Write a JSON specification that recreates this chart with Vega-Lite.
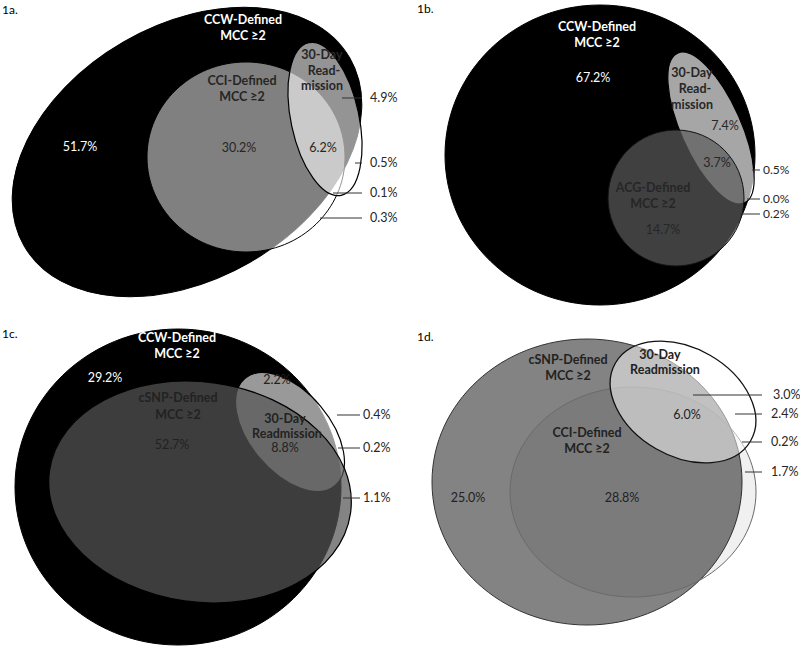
{
  "$schema": "https://vega.github.io/schema/vega-lite/v6.json",
  "background": "white",
  "padding": 0,
  "bounds": "flush",
  "spacing": 0,
  "columns": 2,
  "config": {"view": {"stroke": null}},
  "resolve": {"scale": {"x": "independent", "y": "independent"}},
  "concat": [
    {
      "width": 400, "height": 320,
      "encoding": {
        "x": {"field": "x", "type": "quantitative", "scale": {"domain": [0, 400]}, "axis": null},
        "y": {"field": "y", "type": "quantitative", "scale": {"domain": [0, 320], "reverse": true}, "axis": null}
      },
      "layer": [
        {"data": {"values": [{"set": "CCW-Defined MCC ≥2", "x": 187, "y": 152}]},
         "mark": {"type": "point", "shape": "M -188 0 A 188 127 0 1 0 188 0 A 188 127 0 1 0 -188 0 Z", "size": 4, "angle": -30, "filled": true, "fill": "#000", "fillOpacity": 1, "stroke": "#000", "strokeWidth": 1, "opacity": 1}},
        {"data": {"values": [{"set": "CCI-Defined MCC ≥2", "x": 246, "y": 157}]},
         "mark": {"type": "point", "shape": "M -99 0 A 99 95 0 1 0 99 0 A 99 95 0 1 0 -99 0 Z", "size": 4, "filled": true, "fill": "#fff", "fillOpacity": 0.5, "stroke": "#000", "strokeWidth": 1, "opacity": 1}},
        {"data": {"values": [{"set": "30-Day Readmission", "x": 325, "y": 119}]},
         "mark": {"type": "point", "shape": "M -34 0 A 34 78 0 1 0 34 0 A 34 78 0 1 0 -34 0 Z", "size": 4, "angle": -12, "filled": true, "fill": "#fff", "fillOpacity": 0.58, "stroke": "#000", "strokeWidth": 1.2, "opacity": 1}},
        {"data": {"values": [{"x": 342, "x2": 362, "y": 98}, {"x": 355, "x2": 362, "y": 163}, {"x": 333, "x2": 362, "y": 193}, {"x": 320, "x2": 362, "y": 218}]},
         "mark": {"type": "rule", "color": "#333", "strokeWidth": 1},
         "encoding": {"x2": {"field": "x2"}}},
        {"data": {"values": [{"t": "1a.", "x": 2, "y": 10}]},
         "mark": {"type": "text", "font": "Lato", "fontSize": 12, "color": "#000", "align": "left", "baseline": "middle"},
         "encoding": {"text": {"field": "t"}}},
        {"data": {"values": [{"t": "CCW-Defined", "x": 243, "y": 20}, {"t": "MCC ≥2", "x": 243, "y": 36}]},
         "mark": {"type": "text", "font": "Lato", "fontSize": 12.5, "fontWeight": "bold", "color": "#fff", "align": "center", "baseline": "middle"},
         "encoding": {"text": {"field": "t"}}},
        {"data": {"values": [{"t": "CCI-Defined", "x": 242, "y": 81}, {"t": "MCC ≥2", "x": 242, "y": 97}, {"t": "30-Day", "x": 322, "y": 55}, {"t": "Read-", "x": 324, "y": 71}, {"t": "mission", "x": 322, "y": 86}]},
         "mark": {"type": "text", "font": "Lato", "fontSize": 12.5, "fontWeight": "bold", "color": "#262626", "align": "center", "baseline": "middle"},
         "encoding": {"text": {"field": "t"}}},
        {"data": {"values": [{"t": "51.7%", "x": 80, "y": 147}]},
         "mark": {"type": "text", "font": "Lato", "fontSize": 12.5, "color": "#fff", "align": "center", "baseline": "middle"},
         "encoding": {"text": {"field": "t"}}},
        {"data": {"values": [{"t": "30.2%", "x": 239, "y": 148}, {"t": "6.2%", "x": 323, "y": 148}]},
         "mark": {"type": "text", "font": "Lato", "fontSize": 12.5, "color": "#262626", "align": "center", "baseline": "middle"},
         "encoding": {"text": {"field": "t"}}},
        {"data": {"values": [{"t": "4.9%", "x": 370, "y": 98}, {"t": "0.5%", "x": 370, "y": 163}, {"t": "0.1%", "x": 370, "y": 193}, {"t": "0.3%", "x": 370, "y": 218}]},
         "mark": {"type": "text", "font": "Lato", "fontSize": 12.5, "color": "#262626", "align": "left", "baseline": "middle"},
         "encoding": {"text": {"field": "t"}}}
      ]
    },
    {
      "width": 400, "height": 320,
      "encoding": {
        "x": {"field": "x", "type": "quantitative", "scale": {"domain": [0, 400]}, "axis": null},
        "y": {"field": "y", "type": "quantitative", "scale": {"domain": [0, 320], "reverse": true}, "axis": null}
      },
      "layer": [
        {"data": {"values": [{"set": "CCW-Defined MCC ≥2", "x": 200, "y": 155}]},
         "mark": {"type": "point", "shape": "M -155 0 A 155 150 0 1 0 155 0 A 155 150 0 1 0 -155 0 Z", "size": 4, "filled": true, "fill": "#000", "fillOpacity": 1, "stroke": "#000", "strokeWidth": 1, "opacity": 1}},
        {"data": {"values": [{"set": "30-Day Readmission", "x": 311, "y": 128}]},
         "mark": {"type": "point", "shape": "M -30 0 A 30 82 0 1 0 30 0 A 30 82 0 1 0 -30 0 Z", "size": 4, "angle": -24, "filled": true, "fill": "#fff", "fillOpacity": 0.65, "stroke": "#000", "strokeWidth": 1.2, "opacity": 1}},
        {"data": {"values": [{"set": "ACG-Defined MCC ≥2", "x": 276, "y": 198}]},
         "mark": {"type": "point", "shape": "M -68 0 A 68 68 0 1 0 68 0 A 68 68 0 1 0 -68 0 Z", "size": 4, "filled": true, "fill": "#5b5b5b", "fillOpacity": 0.7, "stroke": "#111", "strokeWidth": 1, "opacity": 1}},
        {"data": {"values": [{"x": 352, "x2": 360, "y": 170}, {"x": 347, "x2": 360, "y": 199}, {"x": 340, "x2": 360, "y": 214}]},
         "mark": {"type": "rule", "color": "#333", "strokeWidth": 1},
         "encoding": {"x2": {"field": "x2"}}},
        {"data": {"values": [{"t": "1b.", "x": 17, "y": 9}]},
         "mark": {"type": "text", "font": "Lato", "fontSize": 12, "color": "#000", "align": "left", "baseline": "middle"},
         "encoding": {"text": {"field": "t"}}},
        {"data": {"values": [{"t": "CCW-Defined", "x": 197, "y": 27}, {"t": "MCC ≥2", "x": 197, "y": 43}]},
         "mark": {"type": "text", "font": "Lato", "fontSize": 12.5, "fontWeight": "bold", "color": "#fff", "align": "center", "baseline": "middle"},
         "encoding": {"text": {"field": "t"}}},
        {"data": {"values": [{"t": "67.2%", "x": 193, "y": 78}]},
         "mark": {"type": "text", "font": "Lato", "fontSize": 12.5, "color": "#fff", "align": "center", "baseline": "middle"},
         "encoding": {"text": {"field": "t"}}},
        {"data": {"values": [{"t": "30-Day", "x": 292, "y": 73}, {"t": "Read-", "x": 295, "y": 89}, {"t": "mission", "x": 292, "y": 105}, {"t": "ACG-Defined", "x": 253, "y": 188}, {"t": "MCC ≥2", "x": 253, "y": 204}]},
         "mark": {"type": "text", "font": "Lato", "fontSize": 12.5, "fontWeight": "bold", "color": "#262626", "align": "center", "baseline": "middle"},
         "encoding": {"text": {"field": "t"}}},
        {"data": {"values": [{"t": "7.4%", "x": 325, "y": 126}, {"t": "3.7%", "x": 317, "y": 163}, {"t": "14.7%", "x": 263, "y": 230}]},
         "mark": {"type": "text", "font": "Lato", "fontSize": 12.5, "color": "#262626", "align": "center", "baseline": "middle"},
         "encoding": {"text": {"field": "t"}}},
        {"data": {"values": [{"t": "0.5%", "x": 363, "y": 170}, {"t": "0.0%", "x": 363, "y": 199}, {"t": "0.2%", "x": 363, "y": 214}]},
         "mark": {"type": "text", "font": "Lato", "fontSize": 12, "color": "#262626", "align": "left", "baseline": "middle"},
         "encoding": {"text": {"field": "t"}}}
      ]
    },
    {
      "width": 400, "height": 327,
      "encoding": {
        "x": {"field": "x", "type": "quantitative", "scale": {"domain": [0, 400]}, "axis": null},
        "y": {"field": "y", "type": "quantitative", "scale": {"domain": [0, 327], "reverse": true}, "axis": null}
      },
      "layer": [
        {"data": {"values": [{"set": "CCW-Defined MCC ≥2", "x": 178, "y": 167}]},
         "mark": {"type": "point", "shape": "M -163 0 A 163 158 0 1 0 163 0 A 163 158 0 1 0 -163 0 Z", "size": 4, "filled": true, "fill": "#000", "fillOpacity": 1, "stroke": "#000", "strokeWidth": 1, "opacity": 1}},
        {"data": {"values": [{"set": "30-Day Readmission", "x": 290, "y": 112}]},
         "mark": {"type": "point", "shape": "M -70 0 A 70 40 0 1 0 70 0 A 70 40 0 1 0 -70 0 Z", "size": 4, "angle": 50, "filled": true, "fill": "#fff", "fillOpacity": 0.6, "stroke": "#000", "strokeWidth": 1.2, "opacity": 1}},
        {"data": {"values": [{"set": "cSNP-Defined MCC ≥2", "x": 200, "y": 172}]},
         "mark": {"type": "point", "shape": "M -152 0 A 152 110 0 1 0 152 0 A 152 110 0 1 0 -152 0 Z", "size": 4, "angle": 8, "filled": true, "fill": "#555", "fillOpacity": 0.72, "stroke": "#000", "strokeWidth": 1.2, "opacity": 1}},
        {"data": {"values": [{"x": 337, "x2": 360, "y": 95}, {"x": 338, "x2": 360, "y": 128}, {"x": 343, "x2": 360, "y": 178}]},
         "mark": {"type": "rule", "color": "#333", "strokeWidth": 1},
         "encoding": {"x2": {"field": "x2"}}},
        {"data": {"values": [{"t": "1c.", "x": 2, "y": 14}]},
         "mark": {"type": "text", "font": "Lato", "fontSize": 12, "color": "#000", "align": "left", "baseline": "middle"},
         "encoding": {"text": {"field": "t"}}},
        {"data": {"values": [{"t": "CCW-Defined", "x": 177, "y": 18}, {"t": "MCC ≥2", "x": 177, "y": 34}]},
         "mark": {"type": "text", "font": "Lato", "fontSize": 12.5, "fontWeight": "bold", "color": "#fff", "align": "center", "baseline": "middle"},
         "encoding": {"text": {"field": "t"}}},
        {"data": {"values": [{"t": "29.2%", "x": 105, "y": 58}]},
         "mark": {"type": "text", "font": "Lato", "fontSize": 12.5, "color": "#fff", "align": "center", "baseline": "middle"},
         "encoding": {"text": {"field": "t"}}},
        {"data": {"values": [{"t": "cSNP-Defined", "x": 178, "y": 78}, {"t": "MCC ≥2", "x": 178, "y": 95}, {"t": "30-Day", "x": 285, "y": 99}, {"t": "Readmission", "x": 287, "y": 114}]},
         "mark": {"type": "text", "font": "Lato", "fontSize": 12.5, "fontWeight": "bold", "color": "#222", "align": "center", "baseline": "middle"},
         "encoding": {"text": {"field": "t"}}},
        {"data": {"values": [{"t": "2.2%", "x": 277, "y": 60}, {"t": "52.7%", "x": 172, "y": 125}, {"t": "8.8%", "x": 285, "y": 128}]},
         "mark": {"type": "text", "font": "Lato", "fontSize": 12.5, "color": "#222", "align": "center", "baseline": "middle"},
         "encoding": {"text": {"field": "t"}}},
        {"data": {"values": [{"t": "0.4%", "x": 363, "y": 95}, {"t": "0.2%", "x": 363, "y": 128}, {"t": "1.1%", "x": 363, "y": 178}]},
         "mark": {"type": "text", "font": "Lato", "fontSize": 12.5, "color": "#262626", "align": "left", "baseline": "middle"},
         "encoding": {"text": {"field": "t"}}}
      ]
    },
    {
      "width": 400, "height": 327,
      "encoding": {
        "x": {"field": "x", "type": "quantitative", "scale": {"domain": [0, 400]}, "axis": null},
        "y": {"field": "y", "type": "quantitative", "scale": {"domain": [0, 327], "reverse": true}, "axis": null}
      },
      "layer": [
        {"data": {"values": [{"set": "cSNP-Defined MCC ≥2", "x": 187, "y": 162}]},
         "mark": {"type": "point", "shape": "M -155 0 A 155 143 0 1 0 155 0 A 155 143 0 1 0 -155 0 Z", "size": 4, "filled": true, "fill": "#838383", "fillOpacity": 1, "stroke": "#333", "strokeWidth": 1, "opacity": 1}},
        {"data": {"values": [{"set": "CCI-Defined MCC ≥2", "x": 233, "y": 172}]},
         "mark": {"type": "point", "shape": "M -123 0 A 123 105 0 1 0 123 0 A 123 105 0 1 0 -123 0 Z", "size": 4, "filled": true, "fill": "#000", "fillOpacity": 0.06, "stroke": "#6a6a6a", "strokeWidth": 1, "opacity": 1}},
        {"data": {"values": [{"set": "30-Day Readmission", "x": 283, "y": 82}]},
         "mark": {"type": "point", "shape": "M -78 0 A 78 54 0 1 0 78 0 A 78 54 0 1 0 -78 0 Z", "size": 4, "angle": 30, "filled": true, "fill": "#fff", "fillOpacity": 0.5, "stroke": "#111", "strokeWidth": 1.3, "opacity": 1}},
        {"data": {"values": [{"x": 293, "x2": 362, "y": 75}, {"x": 335, "x2": 362, "y": 94}, {"x": 342, "x2": 362, "y": 122}, {"x": 345, "x2": 362, "y": 152}]},
         "mark": {"type": "rule", "color": "#333", "strokeWidth": 1},
         "encoding": {"x2": {"field": "x2"}}},
        {"data": {"values": [{"t": "1d.", "x": 17, "y": 17}]},
         "mark": {"type": "text", "font": "Lato", "fontSize": 12, "color": "#000", "align": "left", "baseline": "middle"},
         "encoding": {"text": {"field": "t"}}},
        {"data": {"values": [{"t": "cSNP-Defined", "x": 168, "y": 40}, {"t": "MCC ≥2", "x": 168, "y": 56}, {"t": "30-Day", "x": 260, "y": 35}, {"t": "Readmission", "x": 265, "y": 50}, {"t": "CCI-Defined", "x": 187, "y": 113}, {"t": "MCC ≥2", "x": 187, "y": 129}]},
         "mark": {"type": "text", "font": "Lato", "fontSize": 12.5, "fontWeight": "bold", "color": "#222", "align": "center", "baseline": "middle"},
         "encoding": {"text": {"field": "t"}}},
        {"data": {"values": [{"t": "6.0%", "x": 287, "y": 95}, {"t": "25.0%", "x": 68, "y": 178}, {"t": "28.8%", "x": 222, "y": 178}]},
         "mark": {"type": "text", "font": "Lato", "fontSize": 12.5, "color": "#222", "align": "center", "baseline": "middle"},
         "encoding": {"text": {"field": "t"}}},
        {"data": {"values": [{"t": "3.0%", "x": 373, "y": 75}, {"t": "2.4%", "x": 371, "y": 94}, {"t": "0.2%", "x": 371, "y": 122}, {"t": "1.7%", "x": 371, "y": 152}]},
         "mark": {"type": "text", "font": "Lato", "fontSize": 12.5, "color": "#262626", "align": "left", "baseline": "middle"},
         "encoding": {"text": {"field": "t"}}}
      ]
    }
  ]
}
